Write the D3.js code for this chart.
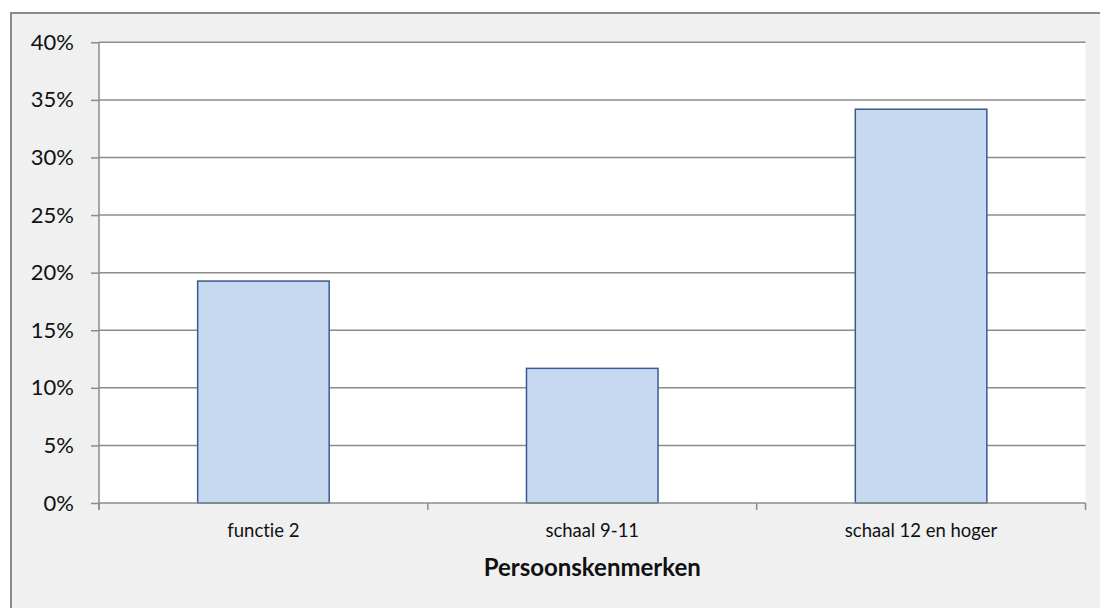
<!DOCTYPE html>
<html>
<head>
<meta charset="utf-8">
<script src="https://cdn.jsdelivr.net/npm/d3@7"></script>
<style>
  html, body { margin: 0; padding: 0; background: #ffffff; }
  svg { display: block; }
  text { font-variant-ligatures: none; font-feature-settings: "liga" 0, "dlig" 0; }
</style>
</head>
<body>
<svg id="chart" width="1100" height="608"></svg>
<script>
const categories = ["functie 2", "schaal 9-11", "schaal 12 en hoger"];
const values = [0.1927, 0.1169, 0.3419];
const yTicks = [0, 0.05, 0.10, 0.15, 0.20, 0.25, 0.30, 0.35, 0.40];
const xTitle = "Persoonskenmerken";

const svg = d3.select("#chart");
const W = 1100, H = 608;
const plot = { left: 99, right: 1085.5, top: 42.3, bottom: 503 };
const FONT = "Lato, 'Open Sans', sans-serif";

// outer chart frame
svg.append("rect")
  .attr("x", 11).attr("y", 13)
  .attr("width", W + 20).attr("height", H + 20)
  .attr("fill", "#f0f0f0")
  .attr("stroke", "#898989").attr("stroke-width", 2);

// plot area
svg.append("rect")
  .attr("x", plot.left).attr("y", plot.top)
  .attr("width", plot.right - plot.left).attr("height", plot.bottom - plot.top)
  .attr("fill", "#ffffff");

const x = d3.scaleBand()
  .domain(categories)
  .range([plot.left, plot.right])
  .paddingInner(0.6)
  .paddingOuter(0.3);

const xCat = d3.scaleBand()
  .domain(categories)
  .range([plot.left, plot.right])
  .padding(0);

const y = d3.scaleLinear()
  .domain([0, 0.40])
  .range([plot.bottom, plot.top]);

const fmt = d3.format(".0%");
const gridColor = "#8c8c8c";

// gridlines
svg.append("g")
  .selectAll("line")
  .data(yTicks.filter(d => d > 0))
  .join("line")
  .attr("x1", plot.left).attr("x2", plot.right)
  .attr("y1", d => y(d)).attr("y2", d => y(d))
  .attr("stroke", gridColor).attr("stroke-width", 1.5);

// bars
svg.append("g")
  .selectAll("rect")
  .data(values)
  .join("rect")
  .attr("x", (d, i) => x(categories[i]))
  .attr("y", d => y(d))
  .attr("width", x.bandwidth())
  .attr("height", d => y(0) - y(d))
  .attr("fill", "#c6d9f1")
  .attr("stroke", "#385d8a")
  .attr("stroke-width", 1.5);

// y axis
const yAxis = d3.axisLeft(y)
  .tickValues(yTicks)
  .tickFormat(fmt)
  .tickSize(8)
  .tickPadding(17);

const gy = svg.append("g")
  .attr("transform", `translate(${plot.left},0)`)
  .call(yAxis);
gy.select(".domain").remove();
gy.selectAll(".tick line").attr("stroke", gridColor).attr("stroke-width", 1.5);
gy.selectAll(".tick text")
  .attr("fill", "#111")
  .style("font-family", FONT)
  .style("font-size", "22px");

svg.append("line")
  .attr("x1", plot.left).attr("x2", plot.left)
  .attr("y1", plot.top).attr("y2", plot.bottom + 6.5)
  .attr("stroke", gridColor).attr("stroke-width", 1.5);

// x axis
svg.append("line")
  .attr("x1", plot.left).attr("x2", plot.right)
  .attr("y1", plot.bottom).attr("y2", plot.bottom)
  .attr("stroke", gridColor).attr("stroke-width", 1.5);

const boundaries = categories.map(c => xCat(c)).concat([xCat(categories[categories.length - 1]) + xCat.bandwidth()]);
svg.append("g")
  .selectAll("line")
  .data(boundaries)
  .join("line")
  .attr("x1", d => d).attr("x2", d => d)
  .attr("y1", plot.bottom).attr("y2", plot.bottom + 7)
  .attr("stroke", gridColor).attr("stroke-width", 1.5);

svg.append("g")
  .selectAll("text")
  .data(categories)
  .join("text")
  .attr("x", d => xCat(d) + xCat.bandwidth() / 2)
  .attr("y", 537)
  .attr("text-anchor", "middle")
  .attr("fill", "#111")
  .style("font-family", FONT)
  .style("font-size", "18.5px")
  .text(d => d);

svg.append("text")
  .attr("x", (plot.left + plot.right) / 2)
  .attr("y", 576)
  .attr("text-anchor", "middle")
  .attr("fill", "#111")
  .style("font-family", FONT)
  .style("font-size", "24px")
  .style("font-weight", "bold")
  .text(xTitle);
</script>
</body>
</html>
